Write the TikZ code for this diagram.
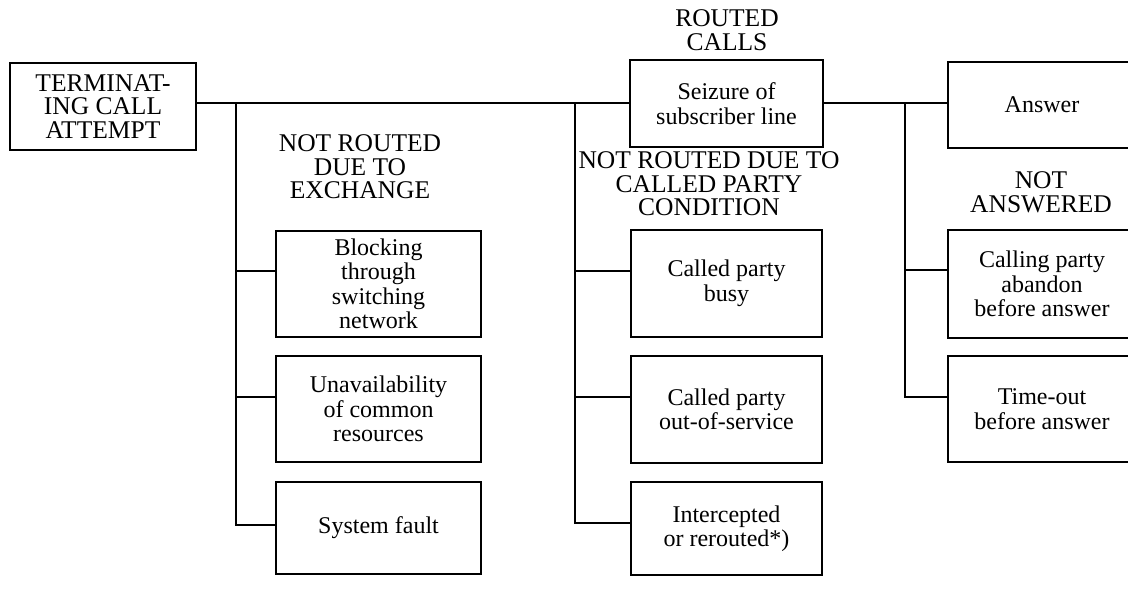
\documentclass[tikz,border=0pt]{standalone}
\usepackage{fontspec}
\setmainfont{Liberation Serif}
\begin{document}
\begin{tikzpicture}[x=1pt,y=-1pt,
  every node/.style={font=\fontsize{24}{24.5}\selectfont, align=center, inner sep=0pt},
  caps/.style={font=\fontsize{25.5}{23.5}\selectfont},
  wire/.style={line width=2.9pt, line join=miter, line cap=rect},
  outcome/.style={draw, line width=2.9pt, rectangle}
]
\useasboundingbox (0,0) rectangle (1128,589);
\clip (0,0) rectangle (1128,589);

% origin
\node[outcome, caps, minimum width=186pt, minimum height=87pt] (term) at (103,106.5)
  {TERMINAT-\\ING CALL\\ATTEMPT};

% routed calls
\node[caps] (hrouted) at (727,30) {ROUTED\\CALLS};
\node[outcome, minimum width=193pt, minimum height=87pt] (seize) at (726.5,103.5)
  {Seizure of\\subscriber line};
\node[outcome, minimum width=188pt, minimum height=86pt] (answer) at (1042,105)
  {Answer};

% not routed due to exchange
\node[caps] (hexch) at (360,167) {NOT ROUTED\\DUE TO\\EXCHANGE};
\node[outcome, minimum width=205pt, minimum height=106pt] (blk) at (378.5,284)
  {Blocking\\through\\switching\\network};
\node[outcome, minimum width=205pt, minimum height=106pt] (unav) at (378.5,409)
  {Unavailability\\of common\\resources};
\node[outcome, minimum width=205pt, minimum height=92pt] (sysf) at (378.5,528)
  {System fault};

% not routed due to called party condition
\node[caps] (hcond) at (709,184) {NOT ROUTED DUE TO\\CALLED PARTY\\CONDITION};
\node[outcome, minimum width=191pt, minimum height=107pt] (busy) at (726.5,283.5)
  {Called party\\busy};
\node[outcome, minimum width=191pt, minimum height=107pt] (oos) at (726.5,409.5)
  {Called party\\out-of-service};
\node[outcome, minimum width=191pt, minimum height=93pt] (intc) at (726.5,528.5)
  {Intercepted\\or rerouted*)};

% not answered
\node[caps] (hnans) at (1041,192) {NOT\\ANSWERED};
\node[outcome, minimum width=188pt, minimum height=108pt] (aband) at (1042,284)
  {Calling party\\abandon\\before answer};
\node[outcome, minimum width=188pt, minimum height=106pt] (tout) at (1042,409)
  {Time-out\\before answer};

% bus junctions
\coordinate (j1) at (236,103);
\coordinate (j2) at (575,103);
\coordinate (j3) at (905,103);
\coordinate (a1) at (236,271);
\coordinate (a2) at (236,397);
\coordinate (a3) at (236,525);
\coordinate (b1) at (575,271);
\coordinate (b2) at (575,397);
\coordinate (b3) at (575,523);
\coordinate (c1) at (905,270);
\coordinate (c2) at (905,397);

% trunk
\draw[wire] (term.east |- j1) -- (seize.west |- j1);
\draw[wire] (seize.east |- j3) -- (answer.west |- j3);

% exchange branch
\draw[wire] (j1) -- (a3) -- (a3 -| sysf.west);
\draw[wire] (a1) -- (a1 -| blk.west);
\draw[wire] (a2) -- (a2 -| unav.west);

% called party branch
\draw[wire] (j2) -- (b3) -- (b3 -| intc.west);
\draw[wire] (b1) -- (b1 -| busy.west);
\draw[wire] (b2) -- (b2 -| oos.west);

% not answered branch
\draw[wire] (j3) -- (c2) -- (c2 -| tout.west);
\draw[wire] (c1) -- (c1 -| aband.west);
\end{tikzpicture}
\end{document}
